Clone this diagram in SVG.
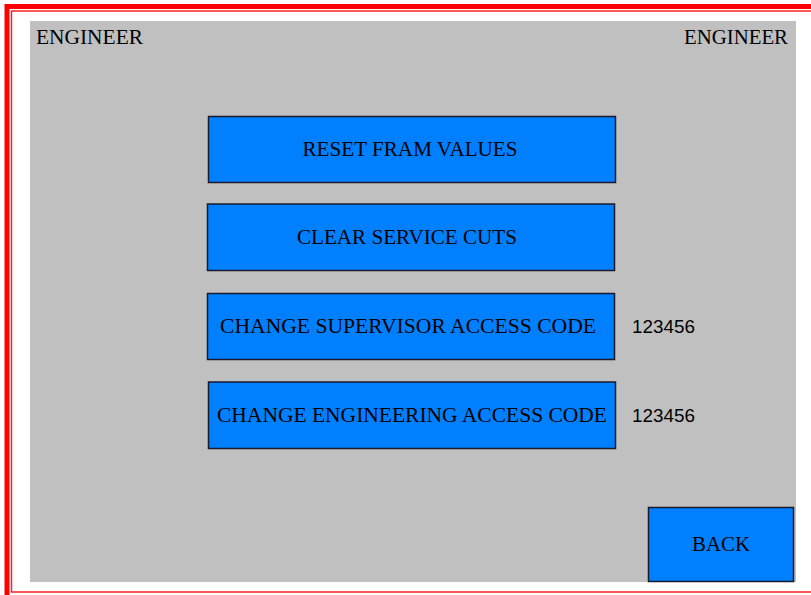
<svg xmlns="http://www.w3.org/2000/svg" width="811" height="595" viewBox="0 0 811 595">
<style>
.btn rect{fill:#0080FF;stroke:#1a1a2a;stroke-width:1.5}
.t{font-family:"Liberation Serif","Times New Roman",serif;font-size:20px;fill:#000;text-anchor:middle}
.lbl{font-family:"Liberation Serif","Times New Roman",serif;font-size:20px;fill:#000}
.num{font-family:"Liberation Sans",Arial,sans-serif;font-size:19px;fill:#000}
</style>
<rect x="0" y="0" width="811" height="595" fill="#fff"/>
<rect x="7" y="6.5" width="820" height="600" fill="none" stroke="#ff0000" stroke-width="5"/>
<rect x="11.5" y="11" width="820" height="581" fill="none" stroke="#ff2020" stroke-width="1.5"/>
<rect x="30" y="21" width="766" height="561" fill="#c0c0c0"/>
<g id="title-left"><text class="lbl" x="36" y="44" textLength="107" lengthAdjust="spacingAndGlyphs">ENGINEER</text></g>
<g id="title-right"><text class="lbl" x="684" y="44" textLength="104" lengthAdjust="spacingAndGlyphs">ENGINEER</text></g>
<g id="reset" class="btn"><rect x="208.5" y="116.5" width="407" height="66"/><text class="t" x="410" y="156" textLength="215" lengthAdjust="spacingAndGlyphs">RESET FRAM VALUES</text></g>
<g id="clear" class="btn"><rect x="207.5" y="204" width="407" height="66.5"/><text class="t" x="407" y="244" textLength="220" lengthAdjust="spacingAndGlyphs">CLEAR SERVICE CUTS</text></g>
<g id="supervisor" class="btn"><rect x="207.5" y="293.5" width="407" height="66"/><text class="t" x="408" y="333" textLength="376" lengthAdjust="spacingAndGlyphs">CHANGE SUPERVISOR ACCESS CODE</text></g>
<g id="engineering" class="btn"><rect x="208.5" y="382" width="407" height="66.5"/><text class="t" x="412" y="422" textLength="390" lengthAdjust="spacingAndGlyphs">CHANGE ENGINEERING ACCESS CODE</text></g>
<g id="code1"><text class="num" x="632" y="333" textLength="63" lengthAdjust="spacingAndGlyphs">123456</text></g>
<g id="code2"><text class="num" x="632" y="422" textLength="63" lengthAdjust="spacingAndGlyphs">123456</text></g>
<g id="back" class="btn"><rect x="648.5" y="507.5" width="145" height="74"/><text class="t" x="721" y="551" textLength="58" lengthAdjust="spacingAndGlyphs">BACK</text></g>
<g id="connectors"></g>
</svg>
